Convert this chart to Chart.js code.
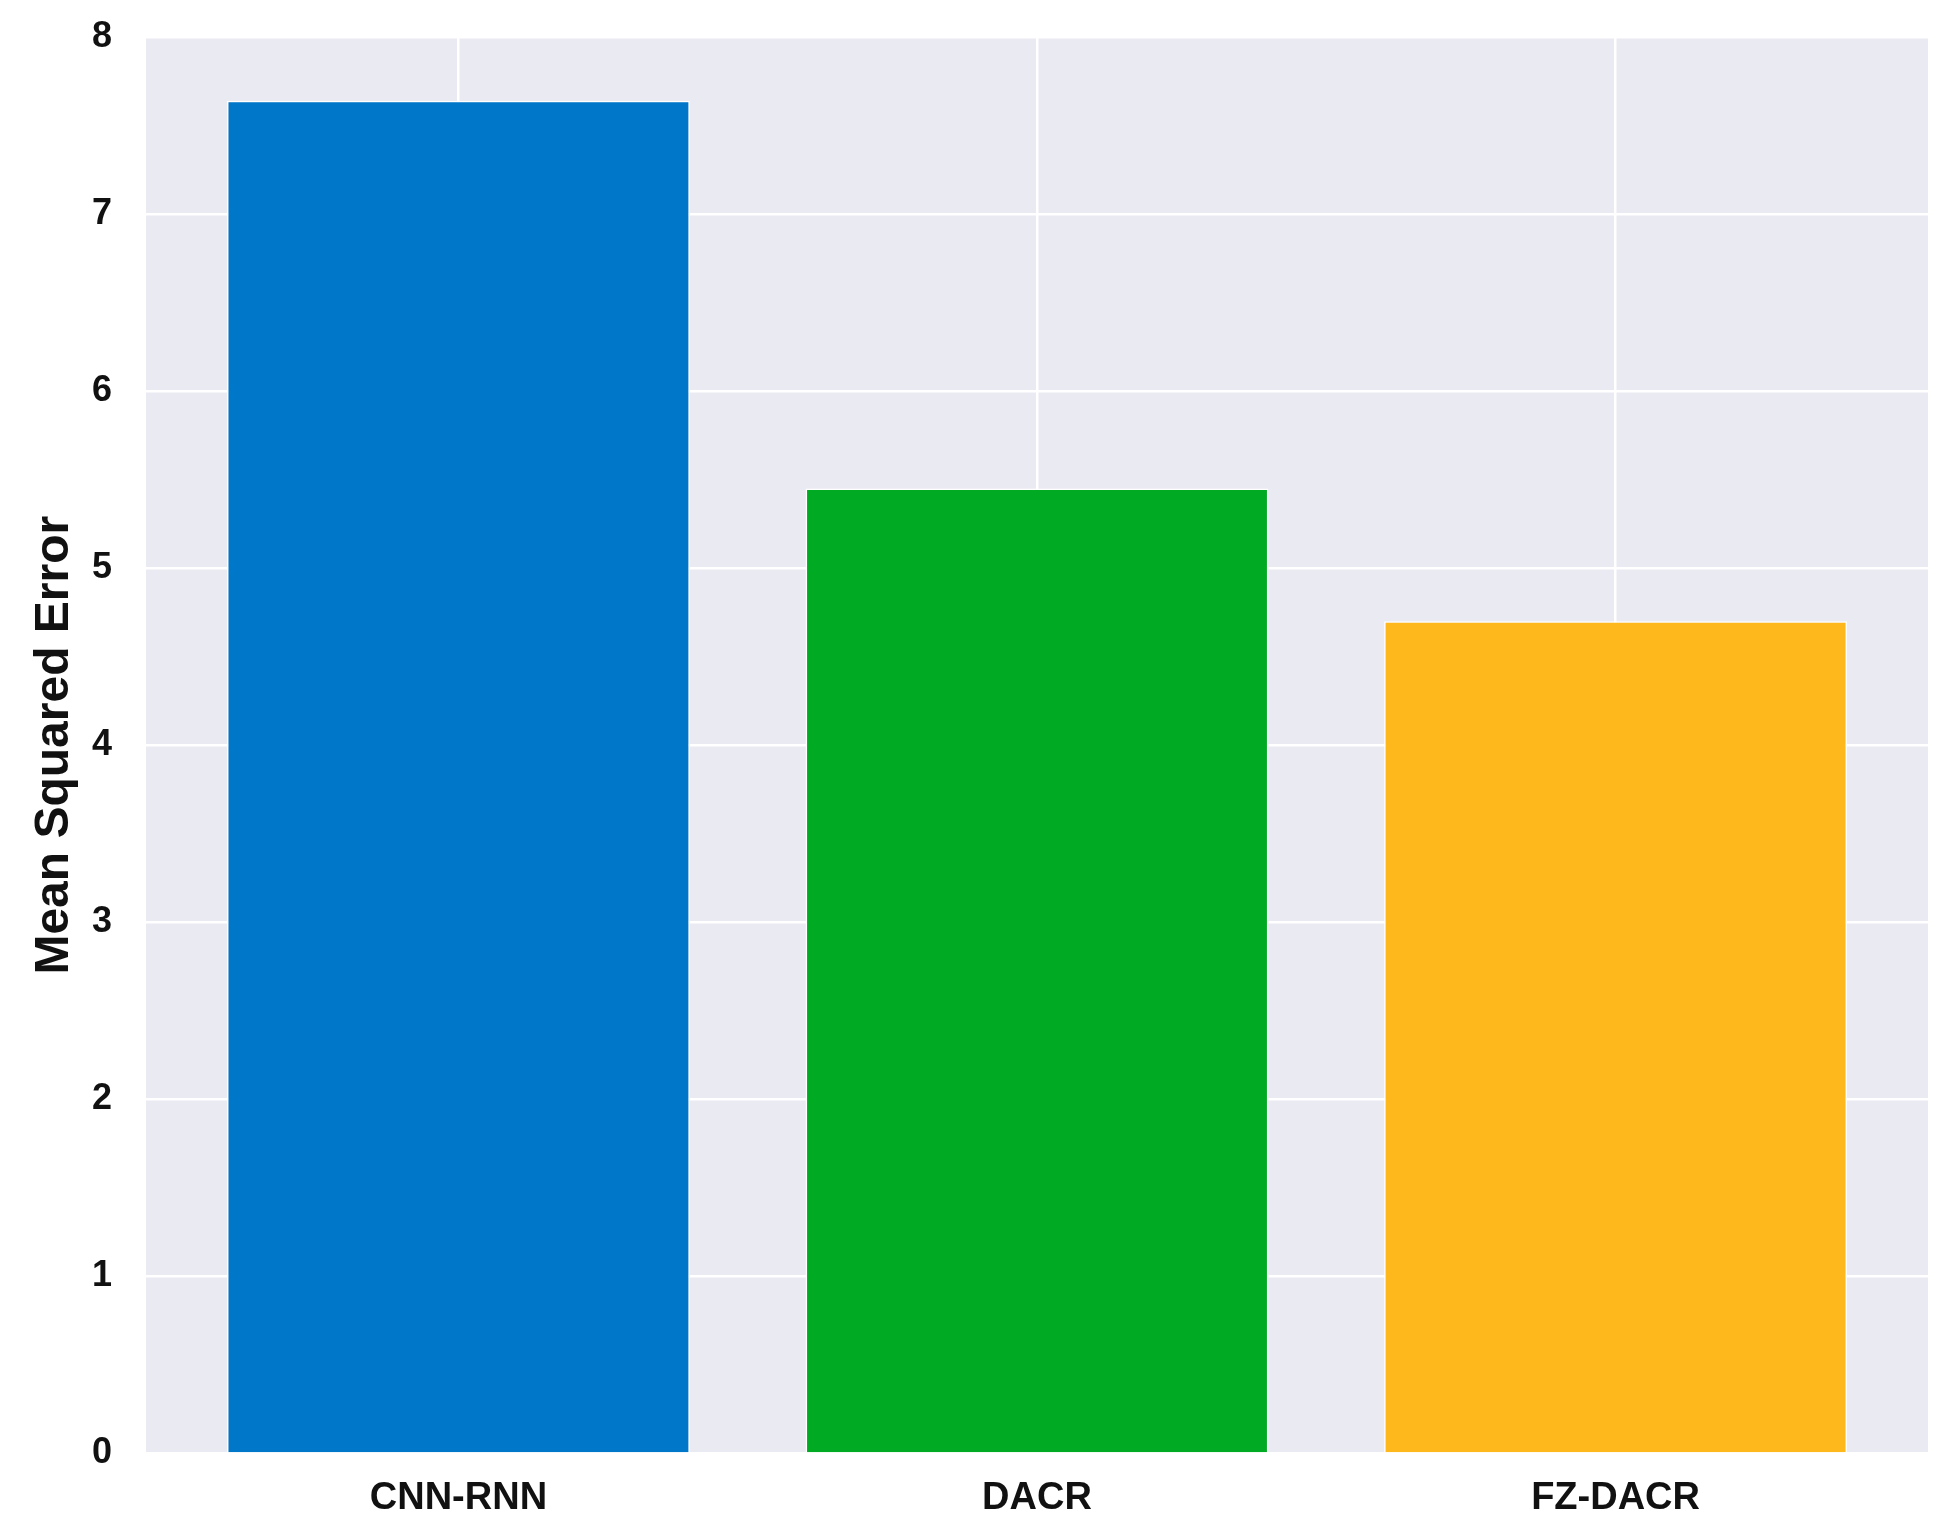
<!DOCTYPE html>
<html>
<head>
<title>Mean Squared Error</title>
<script src="https://cdn.jsdelivr.net/npm/chart.js@4.4.1/dist/chart.umd.min.js"></script>
<style>
html, body { margin: 0; padding: 0; background: #ffffff; }
#wrap { width: 1957px; height: 1539px; }
</style>
</head>
<body>
<div id="wrap"><canvas id="bars"></canvas></div>
<script>
// data
var models = ["CNN-RNN", "DACR", "FZ-DACR"];
var mse = [7.64, 5.45, 4.70];
var barColors = ["#0077c8", "#00aa22", "#ffb81c"];
var yTicks = [0, 1, 2, 3, 4, 5, 6, 7, 8];

// seaborn style grey panel behind the plot
var panelBg = {
  id: 'panelBg',
  beforeDraw: function (chart) {
    var a = chart.chartArea, c = chart.ctx;
    c.save();
    c.fillStyle = '#eaeaf2';
    c.fillRect(a.left, a.top, a.right - a.left, a.bottom - a.top);
    c.restore();
  }
};

var ctx = document.getElementById('bars').getContext('2d');
var chart = new Chart(ctx, {
  type: 'bar',
  data: {
    datasets: [{
      data: models.map(function (m, i) { return { x: i, y: mse[i] }; }),
      backgroundColor: barColors,
      borderColor: '#ffffff',
      borderWidth: 1.5,
      categoryPercentage: 1,
      barPercentage: 0.8
    }]
  },
  options: {
    responsive: true,
    maintainAspectRatio: false,
    animation: false,
    layout: { padding: { top: 37, right: 29, bottom: -4, left: 26 } },
    plugins: { legend: { display: false }, tooltip: { enabled: false } },
    scales: {
      x: {
        type: 'linear',
        min: -0.54,
        max: 2.54,
        offset: false,
        afterBuildTicks: function (axis) {
          axis.ticks = models.map(function (m, i) { return { value: i }; });
        },
        ticks: {
          padding: 22,
          color: '#111111',
          font: { family: 'Liberation Sans', size: 38, weight: 'bold' },
          callback: function (v) { return models[v]; }
        },
        grid: { color: '#ffffff', lineWidth: 2.5, drawTicks: false, offset: false },
        border: { display: false }
      },
      y: {
        min: 0,
        max: 8,
        afterBuildTicks: function (axis) {
          axis.ticks = yTicks.map(function (v) { return { value: v }; });
        },
        afterFit: function (axis) {
          axis.width = 120;
          axis.paddingTop = 0;
          axis.paddingBottom = 0;
        },
        ticks: {
          padding: 34,
          color: '#111111',
          font: { family: 'Liberation Sans', size: 36, weight: 'bold' }
        },
        grid: { color: '#ffffff', lineWidth: 2.5, drawTicks: false },
        border: { display: false },
        title: {
          display: true,
          text: 'Mean Squared Error',
          color: '#111111',
          font: { family: 'Liberation Sans', size: 48, weight: 'bold' },
          padding: { top: 0, bottom: 0 }
        }
      }
    }
  },
  plugins: [panelBg]
});
</script>
</body>
</html>
